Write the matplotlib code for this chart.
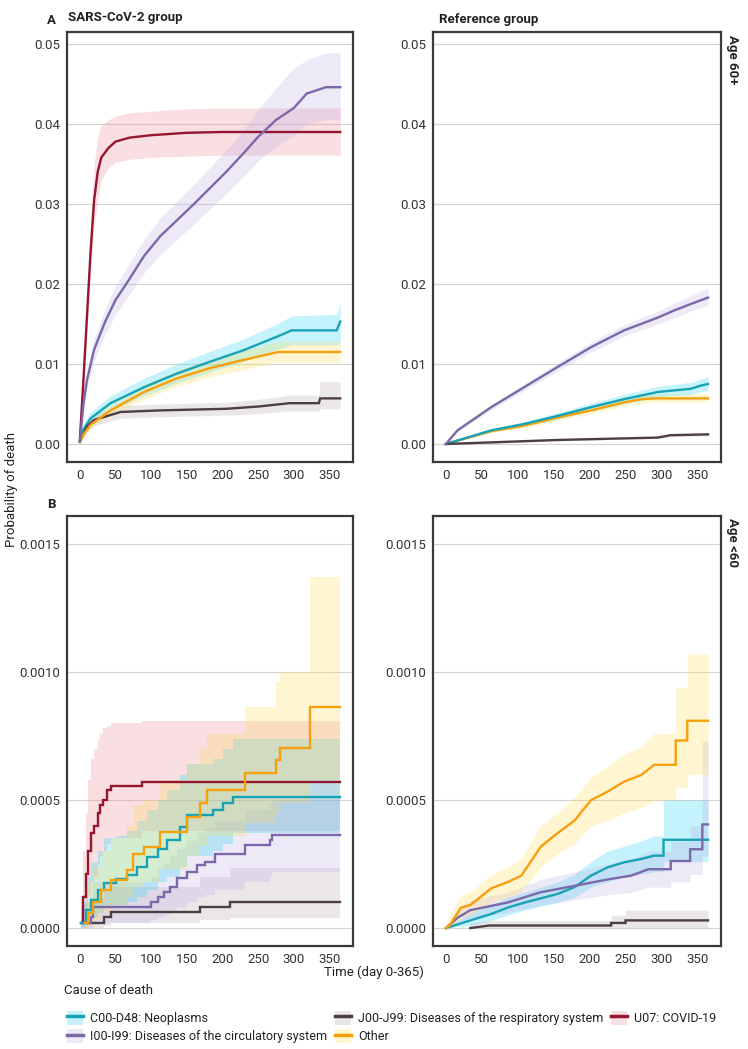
"""Cumulative incidence of death by cause: SARS-CoV-2 vs reference group, age 60+ and <60."""

import matplotlib

matplotlib.use("Agg")
import matplotlib.pyplot as plt
from matplotlib.lines import Line2D
from matplotlib.patches import Patch

plt.rcParams["font.family"] = ["Roboto", "DejaVu Sans"]

CAUSES = [
    "C00-D48: Neoplasms",
    "I00-I99: Diseases of the circulatory system",
    "J00-J99: Diseases of the respiratory system",
    "Other",
    "U07: COVID-19",
]
LINE_COLORS = ["#17a3b5", "#7a69a8", "#4d3e45", "#f5a00c", "#951630"]
FILL_COLORS = ["#26d4f3", "#c0afe5", "#b8a9af", "#ffdd56", "#eb8795"]

# ---- A, SARS-CoV-2 group, age 60+ ----
A_NEO_DAY = [0, 5, 15, 43, 90, 136, 183, 229, 276, 297, 360, 365]
A_NEO_P = [0.0003, 0.0018, 0.0032, 0.0051, 0.0071, 0.0088, 0.0103, 0.0117, 0.0134, 0.0142, 0.0142, 0.0153]
A_NEO_LO = [0.0001, 0.0012, 0.0025, 0.0042, 0.0060, 0.0076, 0.0090, 0.0103, 0.0118, 0.0124, 0.0124, 0.0125]
A_NEO_HI = [0.0006, 0.0025, 0.0040, 0.0060, 0.0082, 0.0100, 0.0116, 0.0131, 0.0150, 0.0160, 0.0162, 0.0176]

A_CIRC_DAY = [0, 5, 10, 20, 35, 50, 65, 90, 113, 160, 205, 230, 250, 275, 300, 318, 345, 365]
A_CIRC_P = [0.0003, 0.0050, 0.0080, 0.0118, 0.0152, 0.0180, 0.0200, 0.0235, 0.0260, 0.0300,
            0.0340, 0.0364, 0.0384, 0.0405, 0.0420, 0.0438, 0.0446, 0.0446]
A_CIRC_LO = [0.0001, 0.0040, 0.0068, 0.0104, 0.0136, 0.0162, 0.0181, 0.0214, 0.0237, 0.0275,
             0.0313, 0.0335, 0.0354, 0.0372, 0.0386, 0.0400, 0.0406, 0.0406]
A_CIRC_HI = [0.0006, 0.0060, 0.0092, 0.0132, 0.0168, 0.0198, 0.0219, 0.0256, 0.0283, 0.0325,
             0.0367, 0.0393, 0.0418, 0.0445, 0.0470, 0.0480, 0.0489, 0.0489]

A_RESP_DAY = [0, 10, 20, 57, 113, 206, 252, 294, 335, 337, 365]
A_RESP_P = [0.0003, 0.0022, 0.0030, 0.0040, 0.0042, 0.0044, 0.0047, 0.0051, 0.0051, 0.0057, 0.0057]
A_RESP_LO = [0.0001, 0.0016, 0.0023, 0.0032, 0.0034, 0.0036, 0.0038, 0.0041, 0.0041, 0.0044, 0.0044]
A_RESP_HI = [0.0005, 0.0028, 0.0037, 0.0048, 0.0050, 0.0052, 0.0056, 0.0061, 0.0061, 0.0078, 0.0078]

A_OTH_DAY = [0, 5, 15, 43, 90, 136, 183, 229, 278, 365]
A_OTH_P = [0.0002, 0.0012, 0.0024, 0.0042, 0.0065, 0.0082, 0.0095, 0.0105, 0.0115, 0.0115]
A_OTH_LO = [0.0001, 0.0008, 0.0019, 0.0035, 0.0056, 0.0072, 0.0084, 0.0093, 0.0102, 0.0102]
A_OTH_HI = [0.0004, 0.0016, 0.0029, 0.0049, 0.0074, 0.0092, 0.0106, 0.0117, 0.0128, 0.0128]

A_COV_DAY = [0, 5, 10, 15, 20, 25, 30, 40, 50, 70, 100, 150, 200, 365]
A_COV_P = [0.0005, 0.0080, 0.0160, 0.0240, 0.0305, 0.0340, 0.0358, 0.0370, 0.0378, 0.0383,
           0.0386, 0.0389, 0.0390, 0.0390]
A_COV_LO = [0.0002, 0.0068, 0.0140, 0.0212, 0.0272, 0.0305, 0.0330, 0.0345, 0.0352, 0.0356,
            0.0358, 0.0360, 0.0361, 0.0361]
A_COV_HI = [0.0008, 0.0095, 0.0185, 0.0275, 0.0350, 0.0385, 0.0398, 0.0405, 0.0410, 0.0414,
            0.0416, 0.0419, 0.0420, 0.0420]

# ---- Reference group, age 60+ ----
R_NEO_DAY = [0, 63, 109, 155, 202, 248, 295, 341, 355, 365]
R_NEO_P = [0.0, 0.0017, 0.0025, 0.0035, 0.0046, 0.0056, 0.0065, 0.0069, 0.0073, 0.0075]
R_NEO_LO = [0.0, 0.0015, 0.0022, 0.0031, 0.0041, 0.0050, 0.0059, 0.0062, 0.0065, 0.0067]
R_NEO_HI = [0.0, 0.0019, 0.0028, 0.0039, 0.0051, 0.0062, 0.0072, 0.0077, 0.0081, 0.0084]

R_CIRC_DAY = [0, 16, 63, 109, 155, 202, 248, 295, 318, 341, 365]
R_CIRC_P = [0.0, 0.0017, 0.0046, 0.0071, 0.0096, 0.0121, 0.0142, 0.0158, 0.0167, 0.0175, 0.0183]
R_CIRC_LO = [0.0, 0.0015, 0.0043, 0.0067, 0.0091, 0.0115, 0.0135, 0.0150, 0.0158, 0.0166, 0.0174]
R_CIRC_HI = [0.0, 0.0019, 0.0049, 0.0075, 0.0101, 0.0127, 0.0149, 0.0166, 0.0176, 0.0185, 0.0195]

R_RESP_DAY = [0, 63, 155, 248, 295, 313, 365]
R_RESP_P = [0.0, 0.0002, 0.0005, 0.0007, 0.0008, 0.0011, 0.0012]
R_RESP_LO = [0.0, 0.0001, 0.0004, 0.0006, 0.0007, 0.0009, 0.0010]
R_RESP_HI = [0.0, 0.0003, 0.0006, 0.0008, 0.0010, 0.0013, 0.0014]

R_OTH_DAY = [0, 63, 109, 155, 202, 248, 272, 290, 365]
R_OTH_P = [0.0, 0.0016, 0.0023, 0.0033, 0.0042, 0.0052, 0.0056, 0.0057, 0.0057]
R_OTH_LO = [0.0, 0.0014, 0.0020, 0.0029, 0.0038, 0.0047, 0.0051, 0.0052, 0.0052]
R_OTH_HI = [0.0, 0.0018, 0.0026, 0.0037, 0.0047, 0.0057, 0.0062, 0.0063, 0.0063]

# ---- B, SARS-CoV-2 group, age <60 (step functions) ----
B_NEO_DAY = [2, 8, 15, 25, 34, 50, 66, 80, 94, 110, 122, 141, 150, 187, 201, 215, 365]
B_NEO_P = [0.00002, 0.00007, 0.00011, 0.00015, 0.000175, 0.00019, 0.000207, 0.00024, 0.000279,
           0.00031, 0.000344, 0.000396, 0.00044, 0.00046, 0.000488, 0.000513, 0.000513]
B_NEO_LO = [0.0, 0.00002, 0.00004, 0.00006, 0.00008, 0.00009, 0.0001, 0.00012, 0.00015,
            0.00018, 0.0002, 0.00024, 0.00028, 0.0003, 0.00033, 0.00037, 0.00037]
B_NEO_HI = [0.0001, 0.0002, 0.00026, 0.0003, 0.00035, 0.00036, 0.00038, 0.00042, 0.00046,
            0.0005, 0.00054, 0.0006, 0.00064, 0.00066, 0.0007, 0.00074, 0.00075]

B_CIRC_DAY = [5, 15, 19, 100, 110, 118, 126, 136, 150, 164, 175, 190, 231, 266, 270, 365]
B_CIRC_P = [0.00002, 0.000044, 0.000083, 0.0001, 0.000122, 0.00014, 0.00016, 0.000195, 0.00022,
            0.000245, 0.00026, 0.00029, 0.000325, 0.000345, 0.000363, 0.000363]
B_CIRC_LO = [0.0, 0.0, 0.00002, 0.00003, 0.00004, 0.00005, 0.00006, 0.00008, 0.0001,
             0.00012, 0.00013, 0.00015, 0.00018, 0.0002, 0.00022, 0.00022]
B_CIRC_HI = [0.00008, 0.00012, 0.00018, 0.0002, 0.00023, 0.00025, 0.00028, 0.00031, 0.00034,
             0.00037, 0.00039, 0.00042, 0.00046, 0.00048, 0.0005, 0.0005]

B_RESP_DAY = [5, 30, 34, 43, 169, 211, 365]
B_RESP_P = [0.00002, 0.00002, 0.000044, 0.000064, 0.000083, 0.0001, 0.0001]
B_RESP_LO = [0.0, 0.0, 0.00001, 0.00002, 0.00003, 0.00004, 0.00004]
B_RESP_HI = [0.0001, 0.00012, 0.00014, 0.00016, 0.0002, 0.000235, 0.000235]

B_OTH_DAY = [7, 12, 18, 30, 43, 66, 75, 90, 113, 150, 169, 178, 231, 275, 280, 322, 365]
B_OTH_P = [0.00002, 0.00006, 0.0001, 0.00015, 0.000187, 0.000226, 0.00029, 0.000318, 0.000376,
           0.000435, 0.000488, 0.00054, 0.000605, 0.000655, 0.000703, 0.000865, 0.000865]
B_OTH_LO = [0.0, 0.00001, 0.00003, 0.00006, 0.00009, 0.00012, 0.00016, 0.00018, 0.00023,
            0.00028, 0.00032, 0.00036, 0.00041, 0.00045, 0.00049, 0.00058, 0.00058]
B_OTH_HI = [0.0001, 0.00018, 0.00024, 0.0003, 0.00035, 0.0004, 0.00048, 0.0005, 0.00058,
            0.00064, 0.0007, 0.00076, 0.000865, 0.00096, 0.001, 0.00137, 0.00137]

B_COV_DAY = [1, 5, 8, 12, 15, 20, 25, 28, 32, 38, 43, 87, 365]
B_COV_P = [0.00002, 0.00012, 0.00021, 0.0003, 0.00037, 0.0004, 0.00045, 0.00048, 0.0005,
           0.00054, 0.000555, 0.000572, 0.000572]
B_COV_LO = [0.0, 0.00003, 0.00008, 0.00013, 0.00018, 0.0002, 0.00025, 0.00028, 0.0003,
            0.00033, 0.00035, 0.00038, 0.00038]
B_COV_HI = [0.00005, 0.0003, 0.00045, 0.00058, 0.00066, 0.0007, 0.00074, 0.00076, 0.00078,
            0.00079, 0.0008, 0.00081, 0.00081]

# ---- Reference group, age <60 ----
S_NEO_DAY = [0, 34, 63, 86, 110, 155, 179, 202, 225, 248, 272, 290, 303, 303, 365]
S_NEO_P = [0.0, 0.00003, 0.000055, 0.00008, 0.0001, 0.000133, 0.00016, 0.000205, 0.000237,
           0.000257, 0.00027, 0.000283, 0.000283, 0.000345, 0.000345]
S_NEO_LO = [0.0, 0.00001, 0.00003, 0.00005, 0.00007, 0.0001, 0.00012, 0.00016, 0.00018,
            0.0002, 0.00021, 0.00022, 0.00022, 0.00026, 0.00026]
S_NEO_HI = [0.0, 0.00006, 0.00009, 0.00012, 0.00014, 0.00018, 0.00021, 0.00026, 0.0003,
            0.00032, 0.00034, 0.00036, 0.00036, 0.0005, 0.0005]

S_CIRC_DAY = [0, 16, 34, 86, 132, 179, 225, 258, 282, 313, 313, 340, 340, 357, 357, 365]
S_CIRC_P = [0.0, 0.00004, 0.00007, 0.0001, 0.00014, 0.000165, 0.00019, 0.000205, 0.00023,
            0.00023, 0.000262, 0.000262, 0.000308, 0.000308, 0.000405, 0.000405]
S_CIRC_LO = [0.0, 0.00002, 0.00004, 0.00006, 0.00009, 0.00011, 0.00013, 0.00014, 0.00016,
             0.00016, 0.00018, 0.00018, 0.00021, 0.00021, 0.00028, 0.00028]
S_CIRC_HI = [0.0, 0.00007, 0.00011, 0.00014, 0.00019, 0.00022, 0.00025, 0.00027, 0.0003,
             0.0003, 0.00034, 0.00034, 0.0004, 0.0004, 0.00073, 0.00073]

S_RESP_DAY = [34, 60, 230, 230, 250, 250, 365]
S_RESP_P = [0.0, 0.00001, 0.00001, 0.00002, 0.00002, 0.00003, 0.00003]
S_RESP_LO = [0.0, 0.0, 0.0, 0.0, 0.0, 0.0, 0.0]
S_RESP_HI = [0.00002, 0.00003, 0.00003, 0.00005, 0.00005, 0.00007, 0.00007]

S_OTH_DAY = [0, 5, 21, 34, 63, 86, 105, 132, 155, 179, 202, 225, 248, 272, 290, 320, 320,
             336, 336, 365]
S_OTH_P = [0.0, 0.00001, 0.00008, 0.00009, 0.000155, 0.00018, 0.000205, 0.000318, 0.00037,
           0.00042, 0.0005, 0.000533, 0.000572, 0.000598, 0.000638, 0.000638, 0.000733,
           0.000733, 0.00081, 0.00081]
S_OTH_LO = [0.0, 0.0, 0.00004, 0.00005, 0.0001, 0.00012, 0.00014, 0.00024, 0.00029, 0.00033,
            0.0004, 0.00042, 0.00045, 0.00047, 0.0005, 0.0005, 0.00055, 0.00055, 0.0006, 0.0006]
S_OTH_HI = [0.00002, 0.00005, 0.00013, 0.00014, 0.00021, 0.00024, 0.00027, 0.0004, 0.00045,
            0.00051, 0.00059, 0.00063, 0.00068, 0.00071, 0.00076, 0.00076, 0.00094, 0.00094,
            0.00107, 0.00107]

X_TICKS = [0, 50, 100, 150, 200, 250, 300, 350]
Y_TICKS_TOP = [0.00, 0.01, 0.02, 0.03, 0.04, 0.05]
Y_TICKS_BOT = [0.0000, 0.0005, 0.0010, 0.0015]

BAND_ALPHA = 0.27


def panel(ax, series, step=False):
    """series: list of (cause index, day, p, lo, hi); bands first, then lines."""
    for i, day, p, lo, hi in series:
        ax.fill_between(day, lo, hi, step="post" if step else None,
                        color=FILL_COLORS[i], alpha=BAND_ALPHA, lw=0)
    for i, day, p, lo, hi in series:
        ax.plot(day, p, color=LINE_COLORS[i], lw=1.7,
                drawstyle="steps-post" if step else "default", solid_joinstyle="miter")


def style(ax, yticks, fmt, ylim):
    ax.set_xlim(-18, 383)
    ax.set_ylim(*ylim)
    ax.set_xticks(X_TICKS)
    ax.set_yticks(yticks)
    ax.set_yticklabels([fmt.format(v) for v in yticks])
    ax.tick_params(length=0, labelsize=9.5, colors="#333333", pad=5)
    ax.grid(axis="y", color="#d4d4d4", lw=0.8)
    ax.set_axisbelow(True)
    for s in ax.spines.values():
        s.set_color("#3a3a3a")
        s.set_linewidth(1.6)


fig = plt.figure(figsize=(7.48, 10.49), dpi=100)
ax_a = fig.add_axes([0.0896, 0.5596, 0.3824, 0.4099])
ax_r = fig.add_axes([0.5789, 0.5596, 0.3850, 0.4099])
ax_b = fig.add_axes([0.0896, 0.0982, 0.3824, 0.4099])
ax_s = fig.add_axes([0.5789, 0.0982, 0.3850, 0.4099])

panel(ax_a, [
    (0, A_NEO_DAY, A_NEO_P, A_NEO_LO, A_NEO_HI),
    (2, A_RESP_DAY, A_RESP_P, A_RESP_LO, A_RESP_HI),
    (3, A_OTH_DAY, A_OTH_P, A_OTH_LO, A_OTH_HI),
    (4, A_COV_DAY, A_COV_P, A_COV_LO, A_COV_HI),
    (1, A_CIRC_DAY, A_CIRC_P, A_CIRC_LO, A_CIRC_HI),
])
panel(ax_r, [
    (3, R_OTH_DAY, R_OTH_P, R_OTH_LO, R_OTH_HI),
    (0, R_NEO_DAY, R_NEO_P, R_NEO_LO, R_NEO_HI),
    (2, R_RESP_DAY, R_RESP_P, R_RESP_LO, R_RESP_HI),
    (1, R_CIRC_DAY, R_CIRC_P, R_CIRC_LO, R_CIRC_HI),
])
panel(ax_b, [
    (4, B_COV_DAY, B_COV_P, B_COV_LO, B_COV_HI),
    (2, B_RESP_DAY, B_RESP_P, B_RESP_LO, B_RESP_HI),
    (1, B_CIRC_DAY, B_CIRC_P, B_CIRC_LO, B_CIRC_HI),
    (0, B_NEO_DAY, B_NEO_P, B_NEO_LO, B_NEO_HI),
    (3, B_OTH_DAY, B_OTH_P, B_OTH_LO, B_OTH_HI),
], step=True)
panel(ax_s, [
    (2, S_RESP_DAY, S_RESP_P, S_RESP_LO, S_RESP_HI),
    (0, S_NEO_DAY, S_NEO_P, S_NEO_LO, S_NEO_HI),
    (1, S_CIRC_DAY, S_CIRC_P, S_CIRC_LO, S_CIRC_HI),
    (3, S_OTH_DAY, S_OTH_P, S_OTH_LO, S_OTH_HI),
])

for ax in (ax_a, ax_r):
    style(ax, Y_TICKS_TOP, "{:.2f}", (-0.00225, 0.0515))
for ax in (ax_b, ax_s):
    style(ax, Y_TICKS_BOT, "{:.4f}", (-0.00007, 0.00161))

bold = dict(fontweight="bold", color="#222222")
fig.text(0.0628, 0.980, "A", fontsize=9.5, va="center", **bold)
fig.text(0.0909, 0.983, "SARS-CoV-2 group", fontsize=9.5, va="center", **bold)
fig.text(0.587, 0.981, "Reference group", fontsize=9.5, va="center", **bold)
fig.text(0.0628, 0.5186, "B", fontsize=9.5, va="center", **bold)
fig.text(0.979, 0.943, "Age 60+", fontsize=9.5, rotation=270, ha="center", va="center", **bold)
fig.text(0.979, 0.483, "Age <60", fontsize=9.5, rotation=270, ha="center", va="center", **bold)
fig.text(0.016, 0.533, "Probability of death", fontsize=9.5, rotation=90,
         ha="center", va="center", color="#222222")
fig.text(0.5, 0.0735, "Time (day 0-365)", fontsize=9.5, ha="center", va="center",
         color="#222222")
fig.text(0.0856, 0.056, "Cause of death", fontsize=9.5, ha="left", va="center",
         color="#222222")

handles = [
    (Patch(facecolor=FILL_COLORS[i], alpha=BAND_ALPHA, lw=0),
     Line2D([], [], color=LINE_COLORS[i], lw=2.5))
    for i in range(len(CAUSES))
]
fig.legend(handles, CAUSES, loc="upper left", bbox_to_anchor=(0.0896, 0.0365), ncol=3,
           frameon=False, fontsize=9, handlelength=1.3, handleheight=1.4,
           handletextpad=0.55, columnspacing=0.6, labelspacing=0.3, borderaxespad=0,
           borderpad=0, labelcolor="#222222")

fig.savefig("out.png", dpi=100)
